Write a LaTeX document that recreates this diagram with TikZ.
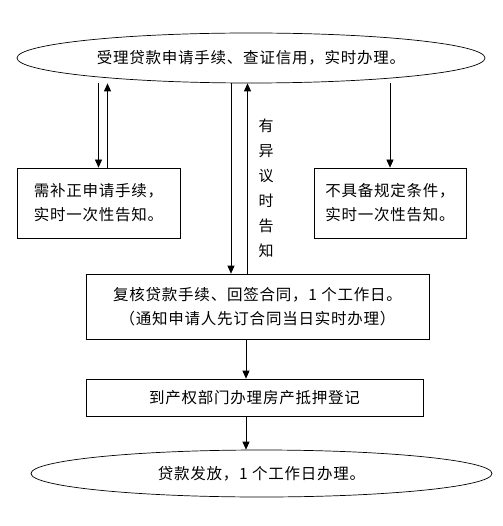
\documentclass[tikz,border=0pt]{standalone}
\usepackage{fontspec}
\newfontfamily\cjk[LetterSpace=5]{Noto Sans CJK SC}
\usetikzlibrary{positioning, arrows.meta, shapes.geometric}

\begin{document}
\begin{tikzpicture}[
  x=1pt, y=-1pt,
  font=\cjk\fontsize{15.5}{24}\selectfont,
  oval/.style={draw, ellipse, inner sep=0pt, line width=0.7pt},
  blk/.style={draw, rectangle, align=center, inner sep=0pt,
              line width=0.7pt},
  arr/.style={-{Triangle[length=8pt, width=7pt]}, line width=0.7pt},
  vlab/.style={align=center, font=\cjk\fontsize{15}{25}\selectfont}
]
\useasboundingbox (0,0) rectangle (502,526);

\node[oval, minimum width=468pt, minimum height=50pt] (accept) at (251,58)
  {受理贷款申请手续、查证信用，实时办理。};
\node[blk, minimum width=163pt, minimum height=70pt] (fix) at (98.5,203)
  {需补正申请手续，\\实时一次性告知。};
\node[blk, minimum width=152pt, minimum height=70pt] (reject) at (390,203)
  {不具备规定条件，\\实时一次性告知。};
\node[blk, minimum width=343pt, minimum height=65pt] (review) at (257.5,306.5)
  {复核贷款手续、回签合同，1 个工作日。\\（通知申请人先订合同当日实时办理）};
\node[blk, minimum width=337pt, minimum height=37pt] (register) at (254.5,397.5)
  {到产权部门办理房产抵押登记};
\node[oval, minimum width=461pt, minimum height=47pt] (loan) at (261.5,473.5)
  {贷款发放，1 个工作日办理。};

\node[vlab] (objection) at (266,188) {有\\异\\议\\时\\告\\知};

\draw[arr] (accept.south -| fix.north) -- (fix.north);
\draw[arr] ([xshift=9pt]fix.north) -- ([xshift=9pt]fix.north |- accept.south);
\draw[arr] (accept.south -| reject.north) -- (reject.north);
\draw[arr] ([xshift=-26.5pt]review.north |- accept.south) -- ([xshift=-26.5pt]review.north);
\draw[arr] ([xshift=-10pt]review.north) -- ([xshift=-10pt]review.north |- accept.south);
\draw[arr] ([xshift=-11.5pt]review.south) -- ([xshift=-11.5pt]review.south |- register.north);
\draw[arr] ([xshift=-8.5pt]register.south) -- ([xshift=-8.5pt]register.south |- loan.north);
\end{tikzpicture}
\end{document}
